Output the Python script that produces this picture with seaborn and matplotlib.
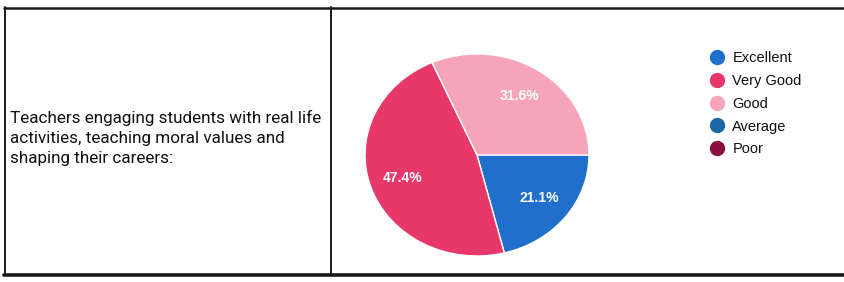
import matplotlib
matplotlib.use("Agg")
import matplotlib.pyplot as plt
from matplotlib.lines import Line2D
import seaborn as sns

categories = ["Excellent", "Very Good", "Good", "Average", "Poor"]
percentages = [21.1, 47.4, 31.6, 0.0, 0.0]
category_colors = ["#1f6fcb", "#e8386a", "#f5a5b7", "#1a68a6", "#8a0f3e"]
question = "Teachers engaging students with real life\nactivities, teaching moral values and\nshaping their careers:"

sns.set_theme(style="white")
plt.rcParams["font.family"] = ["Roboto", "DejaVu Sans"]
palette = sns.color_palette(category_colors)

W, H = 845, 282
fig = plt.figure(figsize=(W / 100, H / 100), dpi=100)
fig.patch.set_facecolor("white")

# table borders
def hline(y, x0, x1, lw):
    fig.add_artist(Line2D([x0 / W, x1 / W], [1 - y / H, 1 - y / H], color="#1a1a1a", lw=lw))

def vline(x, y0, y1, lw):
    fig.add_artist(Line2D([x / W, x / W], [1 - y0 / H, 1 - y1 / H], color="#1a1a1a", lw=lw))

hline(7.5, 4, 845, 1.8)
hline(274.5, 4, 845, 2.6)
vline(5, 7, 275, 1.4)
vline(331, 7, 275, 1.4)

# question text
fig.text(10 / W, 1 - 138 / H, question, ha="left", va="center", fontsize=12.3,
         color="#111111", linespacing=1.4)

# pie
cx, cy, rx, ry = 477, 155, 112, 101
aw, ah = 2.5 * rx, 2.5 * ry
ax = fig.add_axes([(cx - aw / 2) / W, (H - cy - ah / 2) / H, aw / W, ah / H])
vals = [v for v in percentages if v > 0]
cols = [palette[i] for i, v in enumerate(percentages) if v > 0]
wedges, texts, autotexts = ax.pie(
    vals, colors=cols, startangle=0, counterclock=False,
    autopct=lambda p: f"{p:.1f}%", pctdistance=0.7,
    wedgeprops=dict(edgecolor="white", linewidth=1.0),
    textprops=dict(color="white", fontsize=10, fontweight="bold",
                   family=["Liberation Sans", "DejaVu Sans"]),
)
ax.set_aspect("auto")
ax.set_xlim(-1.25, 1.25)
ax.set_ylim(-1.25, 1.25)
ax.axis("off")

# legend
handles = [Line2D([0], [0], marker="o", linestyle="", markersize=10,
                  markerfacecolor=palette[i], markeredgecolor=palette[i])
           for i in range(len(categories))]
fig.legend(handles, categories, loc="upper left",
           bbox_to_anchor=(701 / W, 1 - 44 / H), frameon=False,
           prop=dict(family=["Liberation Sans", "DejaVu Sans"], size=10.5),
           labelspacing=0.6, handletextpad=0.45,
           handlelength=1.2, borderpad=0)
for t in fig.legends[0].get_texts():
    t.set_color("#111111")

fig.savefig("out.png", dpi=100, facecolor="white")
